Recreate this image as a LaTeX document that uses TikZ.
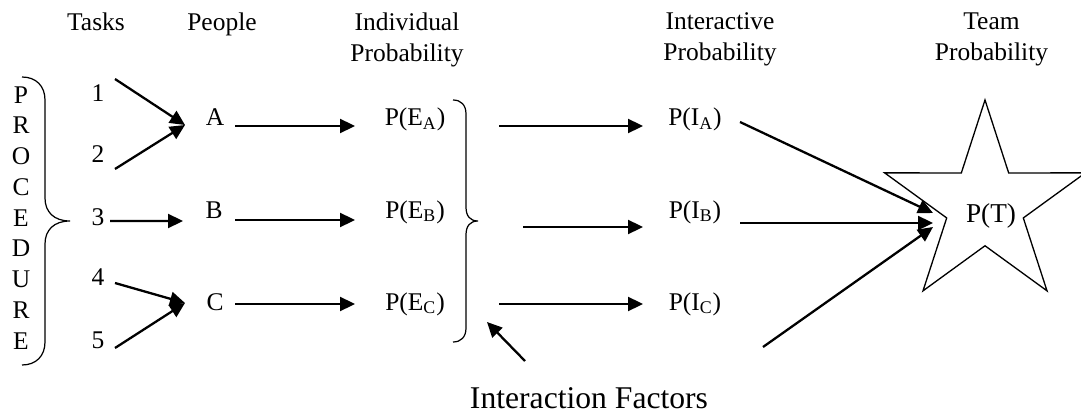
\documentclass[tikz,border=0pt]{standalone}
\usepackage{fontspec}
\setmainfont{Liberation Serif}
\usepackage{tikz}
\usetikzlibrary{arrows.meta, positioning, shapes.geometric}

\tikzset{
  lbl/.style={inner sep=0pt, anchor=base, font=\fontsize{14.5}{17.5}\selectfont},
  head/.style={inner sep=0pt, anchor=north, align=center, font=\fontsize{14.5}{17.5}\selectfont},
  arr/.style={-{Triangle[length=0.3cm,width=0.28cm]}, line width=1.3pt},
  brc/.style={line width=0.7pt},
  teamstar/.style={draw, star, star points=5, star point ratio=2.62, minimum size=4.22cm, inner sep=0pt, line width=0.75pt}
}

\begin{document}
\begin{tikzpicture}
  \useasboundingbox (0,0) rectangle (21.62,8.28);

  \node[head] (hTasks) at (1.92,8.03) {Tasks};
  \node[head] (hPeople) at (4.44,8.03) {People};
  \node[head] (hInd) at (8.14,8.03) {Individual\\Probability};
  \node[head] (hInt) at (14.40,8.03) {Interactive\\Probability};
  \node[head] (hTeam) at (19.83,8.03) {Team\\Probability};

  \node[head] (proc) at (0.42,6.56) {P\\R\\O\\C\\E\\D\\U\\R\\E};

  \node[lbl] (t1) at (1.96,6.24) {1};
  \node[lbl] (t2) at (1.96,5.02) {2};
  \node[lbl] (t3) at (1.96,3.78) {3};
  \node[lbl] (t4) at (1.96,2.58) {4};
  \node[lbl] (t5) at (1.96,1.32) {5};

  \node[lbl] (pA) at (4.30,5.76) {A};
  \node[lbl] (pB) at (4.28,3.92) {B};
  \node[lbl] (pC) at (4.30,2.08) {C};

  \node[lbl] (eA) at (8.30,5.76) {P(E\textsubscript{A})};
  \node[lbl] (eB) at (8.30,3.92) {P(E\textsubscript{B})};
  \node[lbl] (eC) at (8.30,2.08) {P(E\textsubscript{C})};

  \node[lbl] (iA) at (13.90,5.76) {P(I\textsubscript{A})};
  \node[lbl] (iB) at (13.90,3.92) {P(I\textsubscript{B})};
  \node[lbl] (iC) at (13.90,2.08) {P(I\textsubscript{C})};

  \node[teamstar] (T) at (19.70,4.17) {};
  \node[lbl, font=\fontsize{15.5}{18}\selectfont] (pT) at (19.82,3.82) {P(T)};

  \node[lbl, font=\fontsize{18}{21}\selectfont] (IF) at (11.78,0.12) {Interaction Factors};
  \coordinate (fx) at (9.74,1.84);

  % procedure brace
  \draw[brc] (0.44,6.74) .. controls (0.72,6.74) and (0.90,6.56) .. (0.90,6.28) -- (0.90,4.32)
    .. controls (0.90,4.04) and (1.08,3.86) .. (1.40,3.86)
    .. controls (1.08,3.86) and (0.90,3.68) .. (0.90,3.40) -- (0.90,1.44)
    .. controls (0.90,1.16) and (0.72,0.98) .. (0.44,0.98);
  % interaction brace
  \draw[brc] (9.06,6.28) .. controls (9.22,6.28) and (9.32,6.18) .. (9.32,6.00) -- (9.32,4.14)
    .. controls (9.32,3.96) and (9.40,3.86) .. (9.56,3.86)
    .. controls (9.40,3.86) and (9.32,3.76) .. (9.32,3.58) -- (9.32,1.72)
    .. controls (9.32,1.54) and (9.22,1.44) .. (9.06,1.44);

  \draw[arr] ([shift={(0.34,0.46)}]t1.base) -- ([shift={(-0.60,0.02)}]pA.base);
  \draw[arr] ([shift={(0.34,-0.12)}]t2.base) -- ([shift={(-0.60,0.02)}]pA.base);
  \draw[arr] ([shift={(0.24,0.08)}]t3.base) -- ([shift={(-0.62,-0.06)}]pB.base);
  \draw[arr] ([shift={(0.34,0.04)}]t4.base) -- ([shift={(-0.60,0.14)}]pC.base);
  \draw[arr] ([shift={(0.34,0)}]t5.base) -- ([shift={(-0.60,0.14)}]pC.base);

  \draw[arr] ([xshift=0.40cm]pA.base) -- ([xshift=-1.20cm]eA.base);
  \draw[arr] ([shift={(0.42,-0.04)}]pB.base) -- ([shift={(-1.20,-0.04)}]eB.base);
  \draw[arr] ([shift={(0.40,0.12)}]pC.base) -- ([shift={(-1.20,0.12)}]eC.base);

  \draw[arr] ([xshift=1.68cm]eA.base) -- ([xshift=-1.04cm]iA.base);
  \draw[arr] ([shift={(2.16,-0.18)}]eB.base) -- ([shift={(-1.04,-0.18)}]iB.base);
  \draw[arr] ([shift={(1.68,0.12)}]eC.base) -- ([shift={(-1.04,0.12)}]iC.base);

  \draw[arr] ([shift={(0.90,0.08)}]iA.base) -- ([shift={(-1.04,-0.15)}]T.center);
  \draw[arr] ([shift={(0.90,-0.10)}]iB.base) -- ([shift={(-1.04,-0.35)}]T.center);
  \draw[arr] ([shift={(1.36,-0.74)}]iC.base) -- ([shift={(-1.04,-0.43)}]T.center);

  \draw[arr] ([shift={(-1.28,0.94)}]IF.base) -- (fx);
\end{tikzpicture}
\end{document}
